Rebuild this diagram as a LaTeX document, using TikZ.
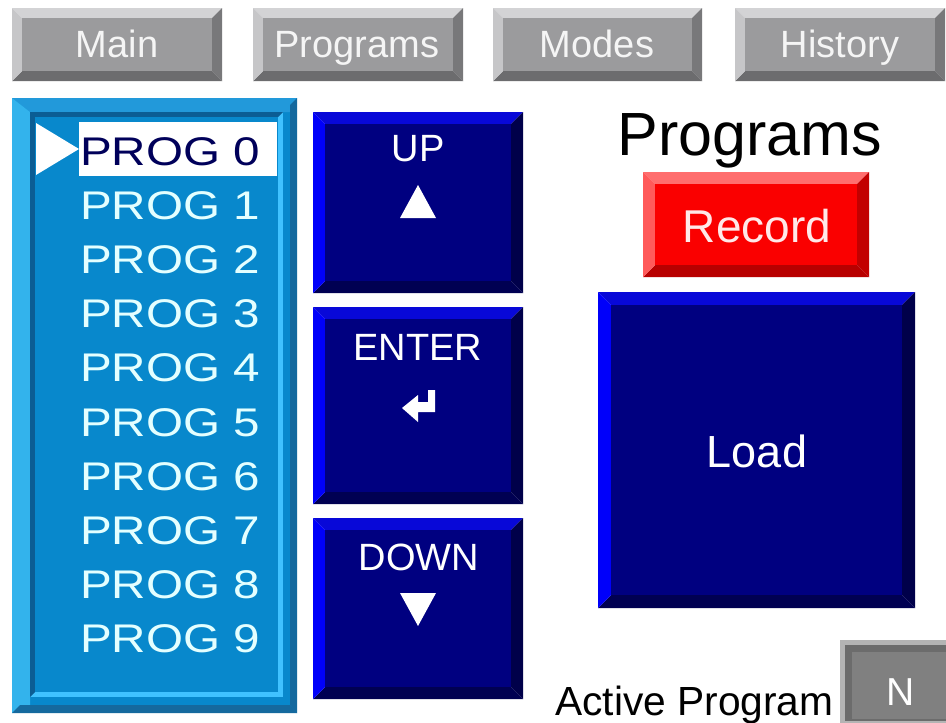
\documentclass[tikz,border=0pt]{standalone}
\usepackage{fontspec}
\setmainfont{Liberation Sans}
% gray tab scheme
\definecolor{grayT}{HTML}{D3D3D5}
\definecolor{grayL}{HTML}{C6C6C8}
\definecolor{grayR}{HTML}{78787A}
\definecolor{grayB}{HTML}{6C6C6E}
\definecolor{grayF}{HTML}{9B9B9D}
% blue button scheme
\definecolor{blueT}{HTML}{0808D8}
\definecolor{blueL}{HTML}{0000FA}
\definecolor{blueR}{HTML}{00004A}
\definecolor{blueB}{HTML}{000052}
\definecolor{blueF}{HTML}{000080}
% red button scheme
\definecolor{redT}{HTML}{FF6E6E}
\definecolor{redL}{HTML}{FF5A5A}
\definecolor{redR}{HTML}{C20000}
\definecolor{redB}{HTML}{B80000}
\definecolor{redF}{HTML}{FA0000}
% list panel
\definecolor{listF}{HTML}{0888CC}
\definecolor{listLight}{HTML}{33B3EC}
\definecolor{listTop}{HTML}{2299DA}
\definecolor{listDark}{HTML}{15699E}
\definecolor{recDark}{HTML}{0B5D94}
\definecolor{recLight}{HTML}{40C2FF}
\definecolor{progtxt}{HTML}{E4FFFF}
\definecolor{selTxt}{HTML}{00005A}
\definecolor{nOuter}{HTML}{B4B4B4}
\definecolor{nDark}{HTML}{6C6C6C}
\definecolor{nFace}{HTML}{808080}
\definecolor{recTxt}{HTML}{FFE8E8}

% bevelled box: x1 y1 x2 y2 bevel scheme name
\newcommand\bevbox[7]{%
  \fill[#6T] (#1,#2) -- (#3,#2) -- (#3-#5,#2+#5) -- (#1+#5,#2+#5) -- cycle;
  \fill[#6R] (#3,#2) -- (#3,#4) -- (#3-#5,#4-#5) -- (#3-#5,#2+#5) -- cycle;
  \fill[#6B] (#3,#4) -- (#1,#4) -- (#1+#5,#4-#5) -- (#3-#5,#4-#5) -- cycle;
  \fill[#6L] (#1,#4) -- (#1,#2) -- (#1+#5,#2+#5) -- (#1+#5,#4-#5) -- cycle;
  \node[fill=#6F, inner sep=0pt, outer sep=0pt,
        minimum width={#3-#1-2*#5}, minimum height={#4-#2-2*#5}]
        (#7) at ({(#1+#3)/2},{(#2+#4)/2}) {};%
}

\tikzset{
  lbl/.style={inner sep=0pt, anchor=base},
  tablbl/.style={lbl, text=white!96!black, font=\fontsize{38}{38}\selectfont},
  btnlbl/.style={lbl, text=white, font=\fontsize{38}{38}\selectfont},
  proglbl/.style={inner sep=0pt, anchor=base west, text=progtxt, xscale=1.19,
                  font=\fontsize{40}{40}\selectfont},
}

\begin{document}
\begin{tikzpicture}[x=1pt, y=-1pt]
\useasboundingbox (0,0) rectangle (946,723);
\fill[white] (0,0) rectangle (946,723);

% ---- top tabs ----
\bevbox{12}{8}{222}{81}{10}{gray}{tabMain}
\bevbox{253}{8}{463}{81}{10}{gray}{tabProg}
\bevbox{493}{8}{702}{81}{10}{gray}{tabModes}
\bevbox{735}{8}{945}{81}{10}{gray}{tabHist}
\node[tablbl] (tMain)  at (117,57)   {Main};
\node[tablbl] (tProg)  at (357,57)   {Programs};
\node[tablbl] (tModes) at (597,57)   {Modes};
\node[tablbl] (tHist)  at (840,57)   {History};

% ---- program list panel ----
\fill[listF] (12,98) rectangle (297,713);
\fill[listTop] (12,98) -- (297,98) -- (290,112) -- (30,112) -- cycle;
\fill[listLight] (12,98) -- (30,112) -- (30,705) -- (12,713) -- cycle;
\fill[listDark] (297,98) -- (297,713) -- (290,705) -- (290,105) -- cycle;
\fill[listDark] (12,713) -- (297,713) -- (290,705) -- (20,705) -- cycle;
% recessed inner frame
\fill[recLight] (30,112) rectangle (283,697);
\fill[recDark] (30,112) -- (283,112) -- (278,117) -- (35,117) -- (35,692) -- (30,697) -- cycle;
\node[fill=listF, inner sep=0pt, minimum width=243, minimum height=575] (listbox) at (156.5,404.5) {};

% selected row
\fill[white] (79,122) rectangle (277,176);
\fill[white] (36,123) -- (79,149) -- (36,175) -- cycle;
\node[proglbl, text=selTxt] (p0) at (80,165) {PROG 0};
\node[proglbl] (p1) at (80,219.2) {PROG 1};
\node[proglbl] (p2) at (80,273.4) {PROG 2};
\node[proglbl] (p3) at (80,327.6) {PROG 3};
\node[proglbl] (p4) at (80,381.8) {PROG 4};
\node[proglbl] (p5) at (80,436.0) {PROG 5};
\node[proglbl] (p6) at (80,490.2) {PROG 6};
\node[proglbl] (p7) at (80,544.4) {PROG 7};
\node[proglbl] (p8) at (80,598.6) {PROG 8};
\node[proglbl] (p9) at (80,652.8) {PROG 9};

% ---- UP / ENTER / DOWN ----
\bevbox{313}{112}{523}{293}{12}{blue}{bUp}
\bevbox{313}{307}{523}{504}{12}{blue}{bEnter}
\bevbox{313}{518}{523}{699}{12}{blue}{bDown}
\node[btnlbl] (lUp) at (418,161) {UP};
\fill[white] (400,218) -- (418,185) -- (436,218) -- cycle;
\node[btnlbl] (lEnter) at (418,360) {ENTER};
\fill[white] (435,390) -- (435,412) -- (418,412) -- (418,422) -- (402,408)
  -- (418,395) -- (418,402) -- (428,402) -- (428,390) -- cycle;
\node[btnlbl] (lDown) at (419,570) {DOWN};
\fill[white] (400,593) -- (436,593) -- (418,626) -- cycle;

% ---- right side ----
\node[lbl, text=black, font=\fontsize{61}{61}\selectfont] (title) at (750,155) {Programs};
\bevbox{643}{172}{869}{277}{12}{red}{bRecord}
\node[lbl, text=recTxt, font=\fontsize{46}{46}\selectfont] (lRecord) at (757,242) {Record};
\bevbox{598}{292}{915}{608}{13}{blue}{bLoad}
\node[lbl, text=white, font=\fontsize{45}{45}\selectfont] (lLoad) at (757,467) {Load};

% ---- active program ----
\node[inner sep=0pt, anchor=base west, text=black, font=\fontsize{40.7}{40.7}\selectfont]
  (lActive) at (555,715) {Active Program};
\fill[nOuter] (840,640) rectangle (960,730);
\fill[nDark] (845,645) rectangle (960,721);
\node[fill=nFace, inner sep=0pt, anchor=north west, minimum width=108, minimum height=67]
  (nbox) at (852,652) {};
\node[lbl, text=white, font=\fontsize{39}{39}\selectfont] (lN) at (901,705) {N};
\end{tikzpicture}
\end{document}
